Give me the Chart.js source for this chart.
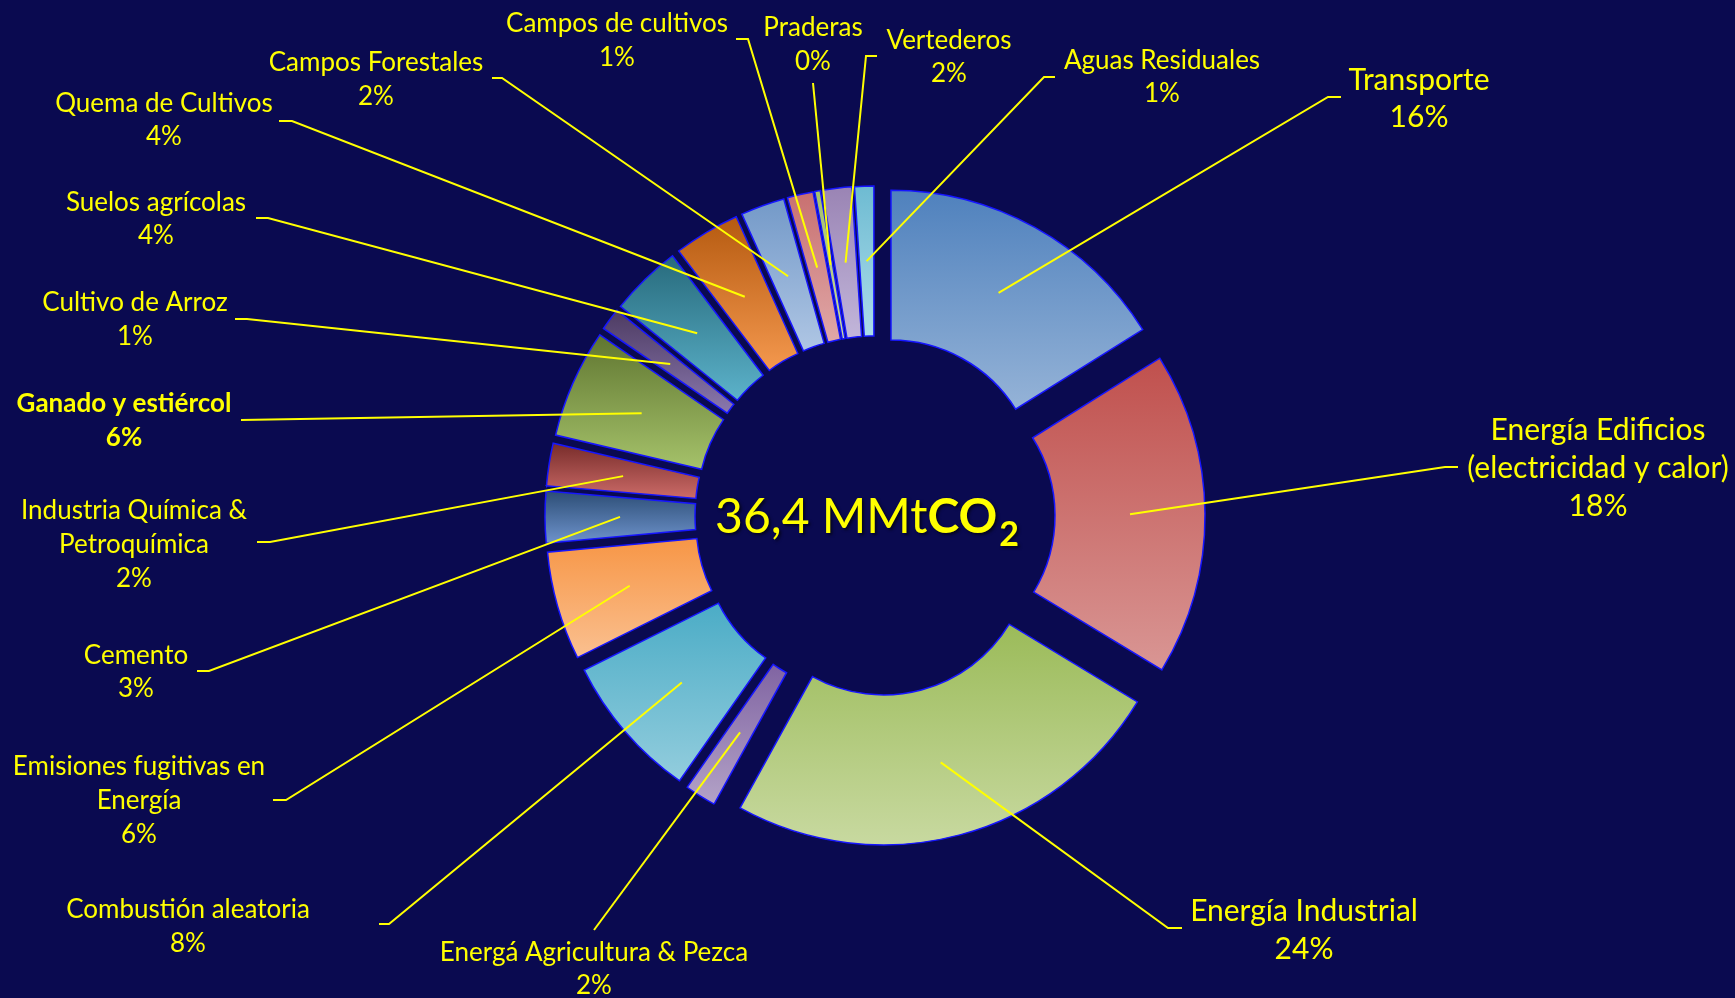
<!DOCTYPE html>
<html>
<head>
<meta charset="utf-8">
<script src="https://cdn.jsdelivr.net/npm/chart.js@4.4.0/dist/chart.umd.min.js"></script>
<style>
  html, body { margin: 0; padding: 0; background: #0a0a50; }
  canvas { display: block; }
</style>
</head>
<body>
<canvas id="chart" width="1735" height="998"></canvas>
<script>
// Emission sources, clockwise from twelve o'clock (multi-line names as arrays)
const categories = [
  'Transporte',
  ['Energía Edificios', '(electricidad y calor)'],
  'Energía Industrial',
  'Energá Agricultura & Pezca',
  'Combustión aleatoria',
  ['Emisiones fugitivas en', 'Energía'],
  'Cemento',
  ['Industria Química &', 'Petroquímica'],
  'Ganado y estiércol',
  'Cultivo de Arroz',
  'Suelos agrícolas',
  'Quema de Cultivos',
  'Campos Forestales',
  'Campos de cultivos',
  'Praderas',
  'Vertederos',
  'Aguas Residuales'
];

// Emissions per source, MMtCO2
const emissions = [5.86, 6.40, 8.86, 0.62, 2.88, 2.15, 1.02, 0.84, 2.15, 0.44, 1.42, 1.31, 0.87, 0.51, 0.11, 0.58, 0.38];

// Slice fills: vertical gradient from the top colour to the bottom colour
const colorsTop = ['#4f81bd', '#c0504d', '#9bbb59', '#8064a2', '#4bacc6', '#f79646', '#2c4d75', '#772c2a',
                   '#5f7530', '#4d3b62', '#276a7c', '#b55a10', '#7399c8', '#c87070', '#a5c26a', '#9a84b4', '#6ebbd2'];
const colorsBottom = ['#95b3d7', '#d99694', '#c8d9a0', '#b3a2c7', '#93cddd', '#fac090', '#6e93cc', '#cc6b68',
                      '#a5c26a', '#8a78ae', '#5cb2ca', '#f4984e', '#afc6e4', '#e0a8a8', '#c8d9a0', '#c2b6da', '#acdcea'];

// Ring geometry
const OUTER_R = 297;
const CUTOUT = '49.5%';
const EXPLODE = 33;

const BG = '#0a0a50';
const YELLOW = '#ffff00';
const FONT = 'Lato, "Open Sans", sans-serif';

// Label placement: text centre x, first line y, line height, size, weight, elbow (ex, ey) and tick end hx
const labelLayout = [
  { x: 1419, y: 80,  lh: 37, size: 30, bold: false, ex: 1328, ey: 97,  hx: 1341 },
  { x: 1598, y: 430, lh: 38, size: 30, bold: false, ex: 1445, ey: 467, hx: 1458 },
  { x: 1304, y: 911, lh: 38, size: 30, bold: false, ex: 1168, ey: 928, hx: 1182 },
  { x: 594,  y: 953, lh: 33, size: 26, bold: false, ex: 594,  ey: 930, hx: 594 },
  { x: 188,  y: 910, lh: 34, size: 26, bold: false, ex: 389,  ey: 924, hx: 379 },
  { x: 139,  y: 767, lh: 34, size: 26, bold: false, ex: 286,  ey: 800, hx: 273 },
  { x: 136,  y: 656, lh: 33, size: 26, bold: false, ex: 209,  ey: 671, hx: 197 },
  { x: 134,  y: 511, lh: 34, size: 26, bold: false, ex: 270,  ey: 542, hx: 257 },
  { x: 124,  y: 404, lh: 34, size: 26, bold: true,  ex: 241,  ey: 420, hx: 241 },
  { x: 135,  y: 303, lh: 34, size: 26, bold: false, ex: 247,  ey: 319, hx: 235 },
  { x: 156,  y: 203, lh: 33, size: 26, bold: false, ex: 268,  ey: 218, hx: 256 },
  { x: 164,  y: 104, lh: 33, size: 26, bold: false, ex: 292,  ey: 121, hx: 279 },
  { x: 376,  y: 63,  lh: 34, size: 26, bold: false, ex: 502,  ey: 78,  hx: 492 },
  { x: 617,  y: 24,  lh: 34, size: 26, bold: false, ex: 748,  ey: 39,  hx: 736 },
  { x: 813,  y: 28,  lh: 34, size: 26, bold: false, ex: 813,  ey: 83,  hx: 813 },
  { x: 949,  y: 41,  lh: 33, size: 26, bold: false, ex: 866,  ey: 56,  hx: 877 },
  { x: 1162, y: 61,  lh: 33, size: 26, bold: false, ex: 1044, ey: 77,  hx: 1055 }
];

const total = emissions.reduce((a, b) => a + b, 0);
const pctText = v => Math.round(v / total * 100) + '%';

// Vertical gradient spanning the bounding box of one annular sector
function sliceFill(context) {
  const i = context.dataIndex;
  if (context.type !== 'data') return colorsTop[0];
  const chart = context.chart;
  const area = chart.chartArea;
  if (!area) return colorsTop[i];
  const cx = (area.left + area.right) / 2;
  const cy = (area.top + area.bottom) / 2;
  const inner = OUTER_R * parseFloat(CUTOUT) / 100;
  let before = 0;
  for (let k = 0; k < i; k++) before += emissions[k];
  const a0 = -Math.PI / 2 + 2 * Math.PI * before / total;
  const a1 = a0 + 2 * Math.PI * emissions[i] / total;
  const ys = [];
  [inner, OUTER_R].forEach(r => { ys.push(cy + Math.sin(a0) * r, cy + Math.sin(a1) * r); });
  if (a0 <= Math.PI / 2 && a1 >= Math.PI / 2) ys.push(cy + OUTER_R);
  if (a0 <= -Math.PI / 2 + 1e-9 || a1 >= 1.5 * Math.PI) ys.push(cy - OUTER_R);
  const top = Math.min(...ys), bottom = Math.max(...ys);
  const g = chart.ctx.createLinearGradient(0, top, 0, Math.max(bottom, top + 1));
  g.addColorStop(0, colorsTop[i]);
  g.addColorStop(1, colorsBottom[i]);
  return g;
}

const background = {
  id: 'background',
  beforeDraw(chart) {
    const c = chart.ctx;
    c.save();
    c.fillStyle = BG;
    c.fillRect(0, 0, chart.width, chart.height);
    c.restore();
  }
};

// Pull every slice outward along its bisector
const explodedSlices = {
  id: 'explodedSlices',
  beforeDatasetDraw(chart, args) {
    const c = chart.ctx;
    args.meta.data.forEach(arc => {
      const mid = (arc.startAngle + arc.endAngle) / 2;
      c.save();
      c.translate(Math.cos(mid) * EXPLODE, Math.sin(mid) * EXPLODE);
      arc.draw(c, chart.chartArea);
      c.restore();
    });
    return false;
  }
};

// Leader lines, category names and percentages
const sliceLabels = {
  id: 'sliceLabels',
  afterDatasetsDraw(chart) {
    const c = chart.ctx;
    const meta = chart.getDatasetMeta(0);
    c.save();
    c.strokeStyle = YELLOW;
    c.lineWidth = 2;
    c.fillStyle = YELLOW;
    c.textAlign = 'center';
    c.textBaseline = 'middle';
    meta.data.forEach((arc, i) => {
      const L = labelLayout[i];
      const mid = (arc.startAngle + arc.endAngle) / 2;
      const rr = EXPLODE + (arc.innerRadius + arc.outerRadius) / 2;
      const sx = arc.x + Math.cos(mid) * rr;
      const sy = arc.y + Math.sin(mid) * rr;
      c.beginPath();
      c.moveTo(sx, sy);
      c.lineTo(L.ex, L.ey);
      c.lineTo(L.hx, L.ey);
      c.stroke();
      c.font = (L.bold ? 'bold ' : '') + L.size + 'px ' + FONT;
      const lines = [].concat(categories[i], pctText(emissions[i]));
      lines.forEach((t, k) => c.fillText(t, L.x, L.y + k * L.lh));
    });
    c.restore();
  }
};

// Total in the hole
const centreTotal = {
  id: 'centreTotal',
  afterDatasetsDraw(chart) {
    const c = chart.ctx;
    const area = chart.chartArea;
    const cx = (area.left + area.right) / 2 - 8;
    const base = (area.top + area.bottom) / 2 + 17;
    const part1 = total.toFixed(1).replace('.', ',') + ' MMt';
    const part2 = 'CO';
    const part3 = '2';
    const f1 = '48px ' + FONT, f2 = 'bold 48px ' + FONT, f3 = 'bold 34px ' + FONT;
    c.save();
    c.font = f1; const w1 = c.measureText(part1).width;
    c.font = f2; const w2 = c.measureText(part2).width;
    c.font = f3; const w3 = c.measureText(part3).width;
    let x = cx - (w1 + w2 + w3 + 2) / 2;
    c.fillStyle = YELLOW;
    c.textAlign = 'left';
    c.textBaseline = 'alphabetic';
    c.shadowColor = 'rgba(0,0,0,0.6)';
    c.shadowBlur = 3;
    c.shadowOffsetX = 2;
    c.shadowOffsetY = 2;
    c.font = f1; c.fillText(part1, x, base); x += w1;
    c.font = f2; c.fillText(part2, x, base); x += w2 + 2;
    c.font = f3; c.fillText(part3, x, base + 13);
    c.restore();
  }
};

new Chart(document.getElementById('chart'), {
  type: 'doughnut',
  data: {
    labels: categories,
    datasets: [{
      data: emissions,
      backgroundColor: sliceFill,
      borderColor: '#1616ff',
      borderWidth: 1.5,
      borderJoinStyle: 'miter'
    }]
  },
  options: {
    responsive: false,
    animation: false,
    events: [],
    radius: OUTER_R,
    cutout: CUTOUT,
    layout: { padding: { left: 15, top: 34, right: 0, bottom: 0 } },
    plugins: {
      legend: { display: false },
      tooltip: { enabled: false }
    }
  },
  plugins: [background, explodedSlices, sliceLabels, centreTotal]
});
</script>
</body>
</html>
